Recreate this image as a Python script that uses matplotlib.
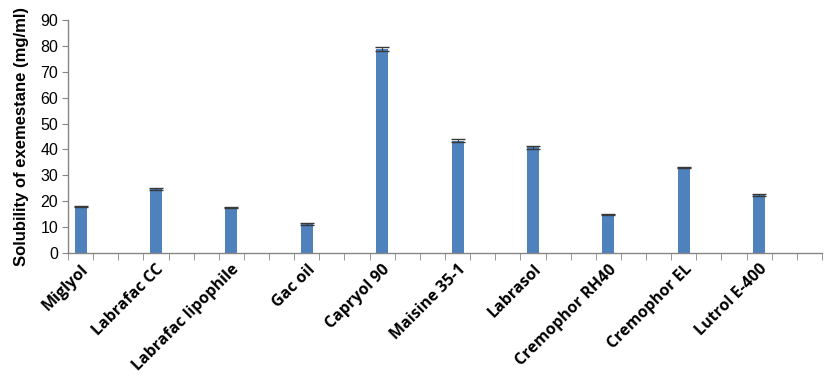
import numpy as np
import matplotlib
matplotlib.use("Agg")
import matplotlib.pyplot as plt

# data
excipients = ["Miglyol", "Labrafac CC", "Labrafac lipophile", "Gac oil", "Capryol 90",
              "Maisine 35-1", "Labrasol", "Cremophor RH40", "Cremophor EL", "Lutrol E-400"]
solubility = [18.1, 24.7, 17.6, 11.2, 78.7, 43.4, 40.8, 14.9, 33.2, 22.4]
sd = [0.2, 0.4, 0.3, 0.3, 0.7, 0.6, 0.5, 0.3, 0.2, 0.2]

# the original sheet had two empty categories between each excipient
slots_per_item = 3
n_slots = len(excipients) * slots_per_item

plt.rcParams.update({
    'font.family': 'Liberation Sans',
    'font.size': 11,
})

fig = plt.figure(figsize=(8.28, 3.81), dpi=100)
ax = fig.add_axes([0.0821, 0.336, 0.9107, 0.6115])

x = np.arange(len(excipients)) * slots_per_item
ax.bar(x, solubility, width=0.48, color='#4f81bd', zorder=2)
ax.errorbar(x, solubility, yerr=sd, fmt='none', ecolor='#3a3a3a',
            elinewidth=0.8, capsize=5, capthick=1, zorder=3)

ax.set_xlim(-0.5, n_slots - 0.5)
ax.set_ylim(0, 90)
ax.set_yticks(np.arange(0, 91, 10))
ax.tick_params(axis='y', direction='out', length=4, color='#868686', labelsize=11.5, pad=3)

ax.set_xticks(x)
ax.set_xticklabels(excipients, rotation=45, ha='right', rotation_mode='anchor',
                   fontsize=11.5, fontweight='bold', family='Open Sans')
ax.tick_params(axis='x', which='major', length=0, pad=6)
ax.set_xticks(np.arange(-0.5, n_slots, 1), minor=True)
ax.tick_params(axis='x', which='minor', direction='out', length=5, color='#868686')

ax.set_ylabel('Solubility of exemestane (mg/ml)', fontsize=12, fontweight='bold', labelpad=8)

for s in ['top', 'right']:
    ax.spines[s].set_visible(False)
for s in ['left', 'bottom']:
    ax.spines[s].set_color('#868686')
    ax.spines[s].set_linewidth(1)

fig.savefig('out.png', dpi=100)
